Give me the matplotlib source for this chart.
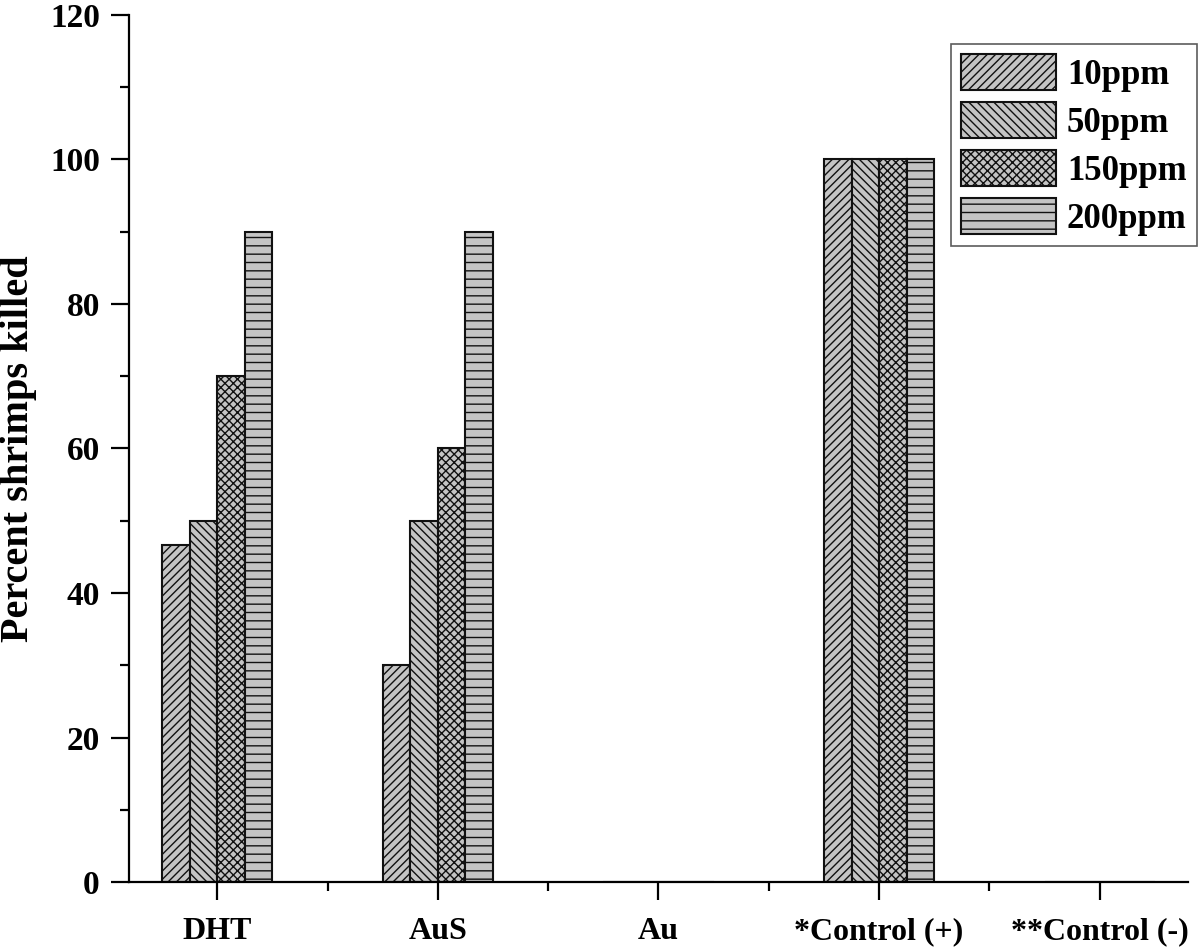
import numpy as np
import matplotlib
matplotlib.use("Agg")
import matplotlib.pyplot as plt

# data
categories = ["DHT", "AuS", "Au", "*Control (+)", "**Control (-)"]
series = ["10ppm", "50ppm", "150ppm", "200ppm"]
ppm10 = [46.7, 30, 0, 100, 0]
ppm50 = [50, 50, 0, 100, 0]
ppm150 = [70, 60, 0, 100, 0]
ppm200 = [90, 90, 0, 100, 0]
hatches = ["////", "\\\\\\\\", "xxxx", "--"]

plt.rcParams["font.family"] = ["Liberation Serif", "DejaVu Serif"]
plt.rcParams["font.weight"] = "bold"
plt.rcParams["hatch.linewidth"] = 1.0
plt.rcParams["hatch.color"] = "#222222"

fig = plt.figure(figsize=(12, 9.48), dpi=100)
ax = fig.add_axes([0.1075, 0.0696, 0.8825, 0.9146])

x = np.arange(1, len(categories) + 1)
w = 0.125
values = [ppm10, ppm50, ppm150, ppm200]
for i, (name, vals, h) in enumerate(zip(series, values, hatches)):
    ax.bar(x + (i - 1.5) * w, vals, width=w, color="#c4c4c4", edgecolor="#111111",
           linewidth=1.5, hatch=h, label=name)

ax.set_xlim(0.6, 5.4)
ax.set_ylim(0, 120)
ax.set_xticks(x)
ax.set_xticklabels(categories, fontsize=23, fontweight="bold")
ax.set_xticks([1.5, 2.5, 3.5, 4.5], minor=True)
ax.set_yticks(np.arange(0, 121, 20))
ax.set_yticks(np.arange(10, 120, 20), minor=True)
ax.tick_params(axis="y", labelsize=24)
ax.tick_params(which="major", direction="out", length=13, width=1.6, pad=8)
ax.tick_params(axis="x", which="major", pad=12)
ax.tick_params(which="minor", direction="out", length=6.5, width=1.6)
for lab in ax.get_yticklabels():
    lab.set_fontweight("bold")

for s in ["top", "right"]:
    ax.spines[s].set_visible(False)
for s in ["left", "bottom"]:
    ax.spines[s].set_linewidth(1.6)
ax.spines["bottom"].set_bounds(0.6, 5.4)

ax.set_ylabel("Percent shrimps killed", fontsize=29, fontweight="bold", labelpad=9)

leg = fig.legend(loc="upper right", bbox_to_anchor=(0.9975, 0.9536),
                 prop={"weight": "bold", "size": 25}, borderaxespad=0,
                 handlelength=2.75, handleheight=1.2, labelspacing=0.3,
                 handletextpad=0.3, borderpad=0.3, fancybox=False, edgecolor="#333333")
leg.get_frame().set_linewidth(1.2)

fig.savefig("out.png", dpi=100)
